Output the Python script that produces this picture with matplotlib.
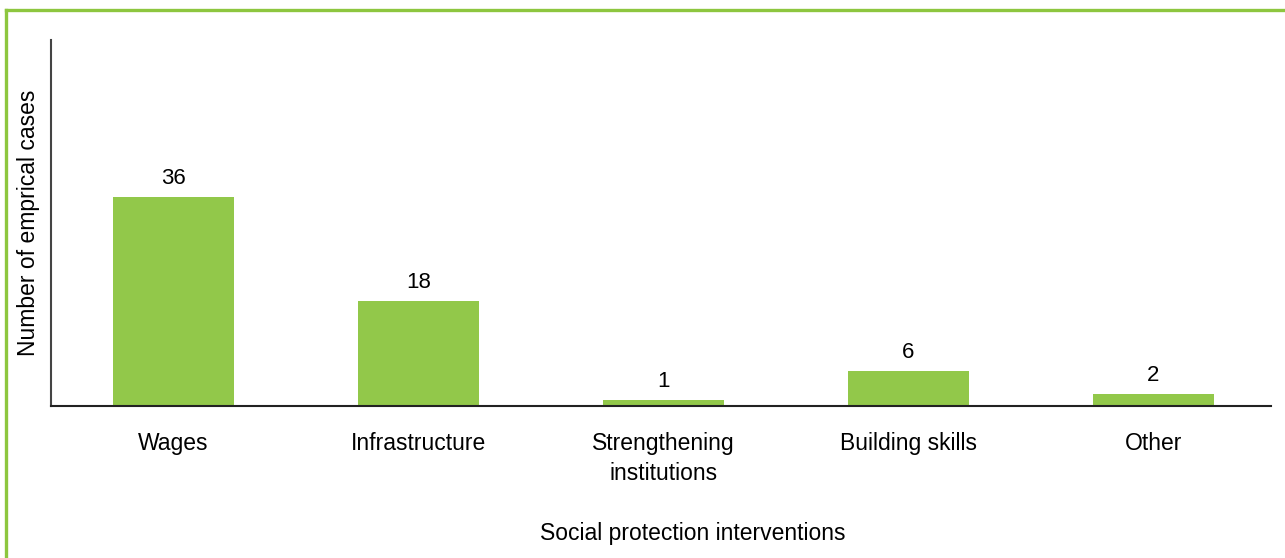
import matplotlib.pyplot as plt
from matplotlib.lines import Line2D

plt.rcParams['font.family'] = ['Liberation Sans', 'DejaVu Sans']

# Data
categories = ['Wages', 'Infrastructure', 'Strengthening\ninstitutions', 'Building skills', 'Other']
cases = [36, 18, 1, 6, 2]

green = '#92c84a'

fig = plt.figure(figsize=(12.85, 5.58), dpi=100)
ax = fig.add_axes([51 / 1285, 1 - 406 / 558, 1220 / 1285, 366 / 558])

x = range(len(categories))
bars = ax.bar(x, cases, width=0.494, color=green)

for b, v in zip(bars, cases):
    ax.annotate(str(v), (b.get_x() + b.get_width() / 2, v), xytext=(0, 6),
                textcoords='offset points', ha='center', va='bottom', fontsize=16)

ax.set_xlim(-0.5, 4.48)
ax.set_ylim(0, 63)
ax.set_xticks(list(x))
ax.set_xticklabels(categories, fontsize=16.5, linespacing=1.35)
ax.tick_params(axis='x', length=0, pad=19)
ax.set_yticks([])

ax.spines['top'].set_visible(False)
ax.spines['right'].set_visible(False)
ax.spines['left'].set_color('#444444')
ax.spines['left'].set_linewidth(1.5)
ax.spines['bottom'].set_color('#222222')
ax.spines['bottom'].set_linewidth(1.5)

ax.set_ylabel('Number of emprical cases', fontsize=16.5, labelpad=8)
ax.set_xlabel('Social protection interventions', fontsize=16.5, labelpad=27)
ax.xaxis.label.set_x(0.526)

# green frame (top and left)
fig.add_artist(Line2D([6 / 1285, 1], [1 - 10 / 558, 1 - 10 / 558],
                      transform=fig.transFigure, color='#8dc63f', lw=2.4))
fig.add_artist(Line2D([6 / 1285, 6 / 1285], [0, 1 - 10 / 558],
                      transform=fig.transFigure, color='#8dc63f', lw=2.4))

fig.savefig('out.png', dpi=100)
